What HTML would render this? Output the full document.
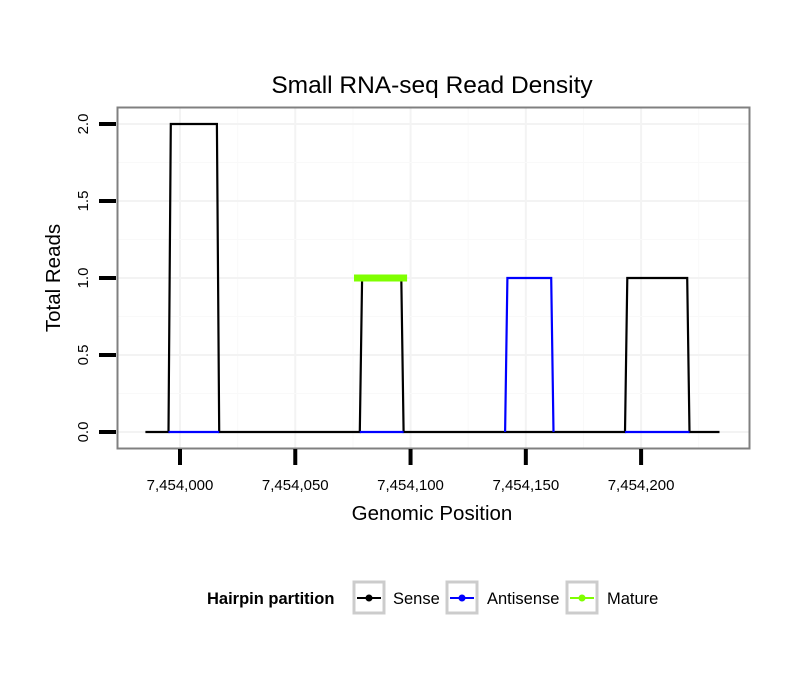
<!DOCTYPE html>
<html><head><meta charset="utf-8"><style>
body{margin:0;background:#fff;}
svg{display:block;font-family:"Liberation Sans",sans-serif;}
</style></head><body>
<svg id="c" width="810" height="690">
<rect x="0" y="0" width="810" height="690" fill="#fff"/>
<text x="432" y="93" font-size="24.5" text-anchor="middle">Small RNA-seq Read Density</text>
<g id="grid"></g>
<g id="series"></g>
<rect x="117.5" y="107.5" width="632" height="341" fill="none" stroke="#808080" stroke-width="2"/>
<g id="axes"></g>
<text x="432" y="520" font-size="20.5" text-anchor="middle">Genomic Position</text>
<text transform="translate(60,278) rotate(-90)" font-size="20.5" text-anchor="middle">Total Reads</text>
<g>
<text x="207" y="604" font-size="16.5" font-weight="bold">Hairpin partition</text>
<g>
<rect x="354" y="582" width="30" height="31" fill="#fff" stroke="#cccccc" stroke-width="3"/>
<line x1="357" y1="598" x2="381" y2="598" stroke="#000" stroke-width="2"/><circle cx="369" cy="598" r="3.5" fill="#000"/>
<text x="393" y="604" font-size="16.5">Sense</text></g>
<g>
<rect x="447" y="582" width="30" height="31" fill="#fff" stroke="#cccccc" stroke-width="3"/>
<line x1="450" y1="598" x2="474" y2="598" stroke="#0000ff" stroke-width="2"/><circle cx="462" cy="598" r="3.5" fill="#0000ff"/>
<text x="487" y="604" font-size="16.5">Antisense</text></g>
<g>
<rect x="567" y="582" width="30" height="31" fill="#fff" stroke="#cccccc" stroke-width="3"/>
<line x1="570" y1="598" x2="594" y2="598" stroke="#7fff00" stroke-width="2"/><circle cx="582" cy="598" r="3.5" fill="#7fff00"/>
<text x="607" y="604" font-size="16.5">Mature</text></g>
</g>
</svg>
<script>
const xTicks=[7454000,7454050,7454100,7454150,7454200];
const xTickLabels=["7,454,000","7,454,050","7,454,100","7,454,150","7,454,200"];
const yTicks=[0,0.5,1,1.5,2];
const yTickLabels=["0.0","0.5","1.0","1.5","2.0"];
const sensePos=[7453985,7453995,7453996,7454016,7454017,7454078,7454079,7454096,7454097,7454193,7454194,7454220,7454221,7454234];
const senseVal=[0,0,2,2,0,0,1,1,0,0,1,1,0,0];
const antisensePos=[7453995,7454017,null,7454078,7454097,null,7454141,7454142,7454161,7454162,null,7454193,7454221];
const antisenseVal=[0,0,null,0,0,null,0,1,1,0,null,0,0];
const maturePos=[7454077,7454097];
const matureVal=[1,1];

const X=v=>180+(v-7454000)*2.3055;
const Y=v=>432-v*154;
const NS="http://www.w3.org/2000/svg";
function mk(tag,attrs,parent){const e=document.createElementNS(NS,tag);for(const k in attrs)e.setAttribute(k,attrs[k]);parent.appendChild(e);return e;}
const grid=document.getElementById('grid'),axes=document.getElementById('axes'),ser=document.getElementById('series');
for(let i=0;i<xTicks.length;i++){
  const gl=mk('line',{x1:X(xTicks[i]),x2:X(xTicks[i]),y1:108,y2:448,stroke:'#f3f3f3','stroke-width':2},grid);
  
  
  const m=xTicks[i]+25;
  const gm=mk('line',{x1:X(m),x2:X(m),y1:108,y2:448,stroke:'#f9f9f9','stroke-width':1},grid);
  
  
  const tk=mk('line',{x1:X(xTicks[i]),x2:X(xTicks[i]),y1:449,y2:465,stroke:'#000','stroke-width':4},axes);
  
  
  const tl=mk('text',{x:X(xTicks[i]),y:490,'font-size':15,'text-anchor':'middle'},axes);
  tl.textContent=xTickLabels[i];
  
  
}
for(let i=0;i<yTicks.length;i++){
  const gl=mk('line',{x1:118,x2:749,y1:Y(yTicks[i]),y2:Y(yTicks[i]),stroke:'#f3f3f3','stroke-width':2},grid);
  
  
  if(i<yTicks.length-1){
    const gm=mk('line',{x1:118,x2:749,y1:Y(yTicks[i]+0.25),y2:Y(yTicks[i]+0.25),stroke:'#f9f9f9','stroke-width':1},grid);
    
    
  }
  const tk=mk('line',{x1:99,x2:116,y1:Y(yTicks[i]),y2:Y(yTicks[i]),stroke:'#000','stroke-width':4},axes);
  
  
  const tl=mk('text',{transform:`translate(88,${Y(yTicks[i])}) rotate(-90)`,'font-size':15,'text-anchor':'middle'},axes);
  tl.textContent=yTickLabels[i];
  
  
}
function pathD(p,v){let d='',pen=false;for(let i=0;i<p.length;i++){if(p[i]===null){pen=false;continue;}d+=(pen?'L':'M')+X(p[i]).toFixed(1)+','+Y(v[i]).toFixed(1);pen=true;}return d;}
const s=mk('path',{d:pathD(sensePos,senseVal),fill:'none',stroke:'#000','stroke-width':2.2},ser);


const a=mk('path',{d:pathD(antisensePos,antisenseVal),fill:'none',stroke:'#0000ff','stroke-width':2.2},ser);


const m=mk('path',{d:pathD(maturePos,matureVal),fill:'none',stroke:'#7fff00','stroke-width':7,'stroke-linecap':'square'},ser);


</script>
</body></html>
